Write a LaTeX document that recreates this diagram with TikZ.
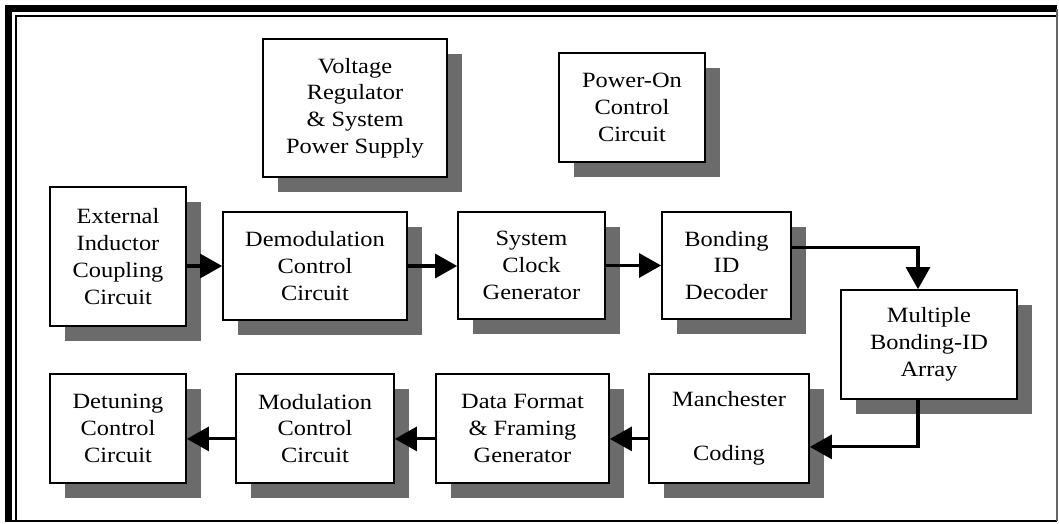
\documentclass[tikz,border=0pt]{standalone}
\usepackage{fontspec}
\setmainfont{Liberation Serif}[FakeStretch=1.12]
\usetikzlibrary{arrows.meta,shadows}

\begin{document}
\begin{tikzpicture}[x=0.025cm, y=-0.025cm, >={Triangle[length=0.55cm,width=0.6cm]},
  every node/.style={font=\fontsize{15.5pt}{19pt}\selectfont},
  blk/.style={draw, line width=1.2pt, fill=white, align=center, inner sep=2pt,
    drop shadow={shadow xshift=0.375cm, shadow yshift=-0.375cm, fill=black!58, opacity=1}},
  flow/.style={->, line width=2.2pt}]
\useasboundingbox (0,0) rectangle (1059,524);
% outer frame
\draw[line width=0.175cm] (8.5,521) -- (8.5,9) -- (1057,9);
\draw[line width=0.04cm] (16,521) -- (16,16) -- (1057,16);
\draw[line width=0.07cm] (5,521) -- (1057,521);
\draw[line width=0.03cm, black!60] (1057,521) -- (1057,9);

\node[blk, minimum width=4.6cm, minimum height=3.45cm] (volt) at (355,108) {Voltage\\ Regulator\\ \& System\\ Power Supply};
\node[blk, minimum width=3.65cm, minimum height=2.725cm] (pwr) at (632,107.5) {Power-On\\ Control\\ Circuit};

\node[blk, minimum width=3.4cm, minimum height=3.475cm] (ext) at (118,256.5) {External\\ Inductor\\ Coupling\\ Circuit};
\node[blk, minimum width=4.6cm, minimum height=2.7cm] (demod) at (315,266) {Demodulation\\ Control\\ Circuit};
\node[blk, minimum width=3.675cm, minimum height=2.675cm] (clk) at (531.5,265.5) {System\\ Clock\\ Generator};
\node[blk, minimum width=3.225cm, minimum height=2.675cm] (bid) at (726.5,265.5) {Bonding\\ ID\\ Decoder};
\node[blk, minimum width=4.4cm, minimum height=2.725cm] (multi) at (929,344.5) {Multiple\\ Bonding-ID\\ Array};

\node[blk, minimum width=4cm, minimum height=2.725cm] (manch) at (729,428.5) {Manchester\\[19pt] Coding};
\node[blk, minimum width=4.325cm, minimum height=2.725cm] (dfmt) at (522.5,428.5) {Data Format\\ \& Framing\\ Generator};
\node[blk, minimum width=3.95cm, minimum height=2.725cm] (mod) at (315,428.5) {Modulation\\ Control\\ Circuit};
\node[blk, minimum width=3.4cm, minimum height=2.725cm] (detune) at (118,428.5) {Detuning\\ Control\\ Circuit};

\draw[flow] (ext.east |- demod.west) -- (demod.west);
\draw[flow] (demod.east) -- (demod.east -| clk.west);
\draw[flow] (clk.east) -- (clk.east -| bid.west);
\draw[flow] ([yshift=0.46cm]bid.east) -| ([xshift=-0.275cm]multi.north);
\draw[flow] ([xshift=-0.275cm]multi.south) |- ([yshift=-0.46cm]manch.east);
\draw[flow] ([yshift=-0.26cm]manch.west) -- ([yshift=-0.26cm]dfmt.east);
\draw[flow] ([yshift=-0.26cm]dfmt.west) -- ([yshift=-0.26cm]mod.east);
\draw[flow] ([yshift=-0.26cm]mod.west) -- ([yshift=-0.26cm]detune.east);
\end{tikzpicture}
\end{document}
